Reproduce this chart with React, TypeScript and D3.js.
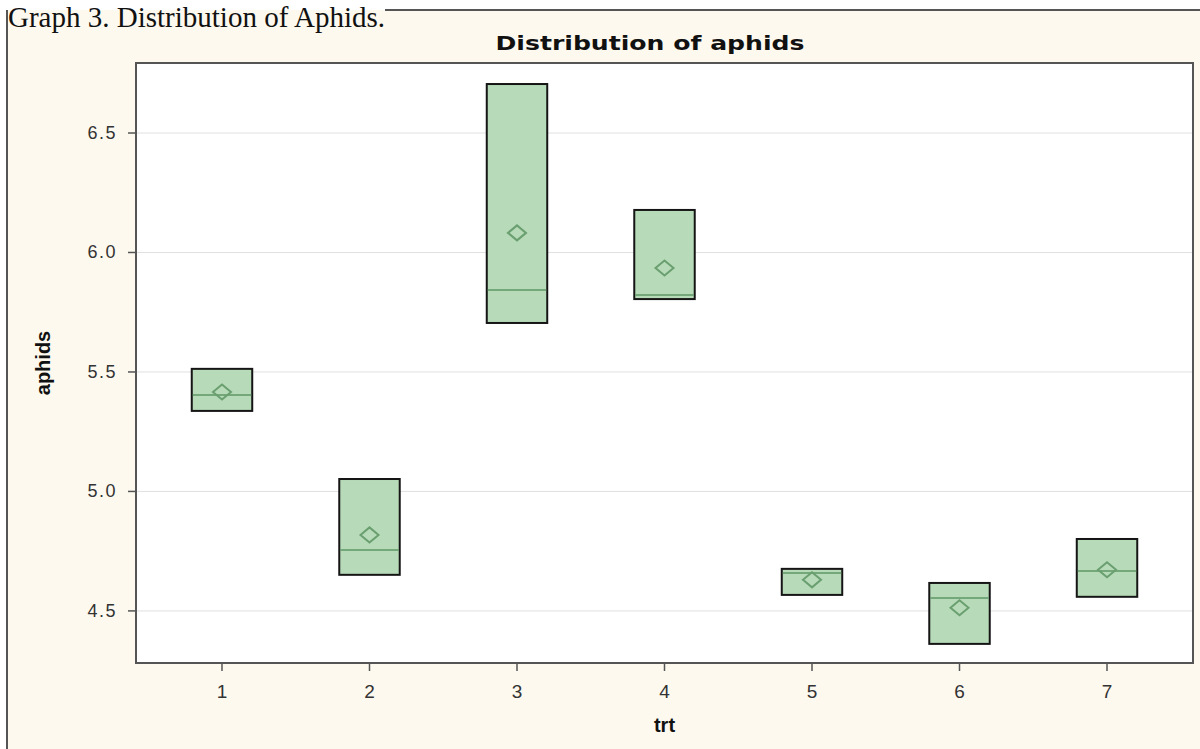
import React from "react";
import * as d3 from "d3";

// treatments and box statistics
const trts = ["1", "2", "3", "4", "5", "6", "7"];
const q1 = [5.337, 4.651, 5.705, 5.805, 4.567, 4.362, 4.559];
const q3 = [5.513, 5.052, 6.705, 6.178, 4.676, 4.617, 4.801];
const medians = [5.404, 4.755, 5.843, 5.822, 4.659, 4.554, 4.667];
const means = [5.416, 4.818, 6.082, 5.935, 4.63, 4.513, 4.672];
const yTicks = [4.5, 5.0, 5.5, 6.0, 6.5];

const W = 1200;
const H = 749;
const plot = { left: 136, right: 1193, top: 63, bottom: 663 };

export default function App() {
  const x = d3
    .scalePoint<string>()
    .domain(trts)
    .range([plot.left, plot.right])
    .padding(0.583);
  const y = d3.scaleLinear().domain([4.282, 6.793]).range([plot.bottom, plot.top]);

  const boxW = x.step() * 0.41;
  const data = trts.map((t, i) => ({
    t,
    q1: q1[i],
    q3: q3[i],
    med: medians[i],
    mean: means[i],
  }));

  const diamond = (cx: number, cy: number) => {
    const dx = 9, dy = 7.5;
    return `M${cx - dx},${cy}L${cx},${cy - dy}L${cx + dx},${cy}L${cx},${cy + dy}Z`;
  };

  return (
    <svg
      width={W}
      height={H}
      style={{ position: "absolute", left: 0, top: 0, display: "block" }}
    >
      <rect x={0} y={0} width={W} height={H} fill="#ffffff" />
      <rect x={7} y={10} width={W - 7} height={H - 10} fill="#fdf9ef" />
      {/* outer frame */}
      <line x1={385} x2={W} y1={10} y2={10} stroke="#555" strokeWidth={2} />
      <line x1={7} x2={7} y1={10} y2={H} stroke="#555" strokeWidth={2} />
      <text
        x={8}
        y={27}
        fontFamily="'Liberation Serif', 'Times New Roman', serif"
        fontSize={30}
        textLength={377}
        lengthAdjust="spacingAndGlyphs"
        fill="#111"
      >
        Graph 3. Distribution of Aphids.
      </text>

      <text
        x={650}
        y={50}
        textAnchor="middle"
        fontFamily="'DejaVu Sans', Verdana, sans-serif"
        fontWeight="bold"
        fontSize={20}
        textLength={309}
        lengthAdjust="spacingAndGlyphs"
        fill="#111"
      >
        Distribution of aphids
      </text>

      {/* plot area */}
      <rect
        x={plot.left}
        y={plot.top}
        width={plot.right - plot.left}
        height={plot.bottom - plot.top}
        fill="#ffffff"
      />
      {yTicks.map((v) => (
        <line
          key={"g" + v}
          x1={plot.left}
          x2={plot.right}
          y1={y(v)}
          y2={y(v)}
          stroke="#e0e0e0"
          strokeWidth={1}
        />
      ))}

      {data.map((d) => {
        const cx = x(d.t) as number;
        return (
          <g key={d.t}>
            <rect
              x={cx - boxW / 2}
              y={y(d.q3)}
              width={boxW}
              height={y(d.q1) - y(d.q3)}
              fill="#b7dab9"
              stroke="#151515"
              strokeWidth={2}
            />
            <line
              x1={cx - boxW / 2 + 1}
              x2={cx + boxW / 2 - 1}
              y1={y(d.med)}
              y2={y(d.med)}
              stroke="#5e9664"
              strokeWidth={1.5}
            />
            <path
              d={diamond(cx, y(d.mean))}
              fill="none"
              stroke="#6a9f70"
              strokeWidth={2}
            />
          </g>
        );
      })}

      {/* axes */}
      <path
        d={`M${plot.left},${plot.top}H${plot.right}V${plot.bottom}H${plot.left}Z`}
        fill="none"
        stroke="#555"
        strokeWidth={2}
      />
      {yTicks.map((v) => (
        <g key={"y" + v}>
          <line
            x1={plot.left - 8}
            x2={plot.left}
            y1={y(v)}
            y2={y(v)}
            stroke="#555"
            strokeWidth={1.5}
          />
          <text
            x={plot.left - 19}
            y={y(v) + 6}
            textAnchor="end"
            fontFamily="'Liberation Sans', Arial, sans-serif"
            fontSize={18}
            letterSpacing={1.5}
            fill="#333"
          >
            {d3.format(".1f")(v)}
          </text>
        </g>
      ))}
      {trts.map((t) => (
        <g key={"x" + t}>
          <line
            x1={x(t)}
            x2={x(t)}
            y1={plot.bottom}
            y2={plot.bottom + 8}
            stroke="#555"
            strokeWidth={1.5}
          />
          <text
            x={x(t)}
            y={plot.bottom + 35}
            textAnchor="middle"
            fontFamily="'Liberation Sans', Arial, sans-serif"
            fontSize={19}
            fill="#333"
          >
            {t}
          </text>
        </g>
      ))}

      <text
        x={(plot.left + plot.right) / 2}
        y={732}
        textAnchor="middle"
        fontFamily="'Liberation Sans', Arial, sans-serif"
        fontWeight="bold"
        fontSize={20}
        fill="#111"
      >
        trt
      </text>
      <text
        transform={`translate(50, ${(plot.top + plot.bottom) / 2}) rotate(-90)`}
        textAnchor="middle"
        fontFamily="'Liberation Sans', Arial, sans-serif"
        fontWeight="bold"
        fontSize={20}
        fill="#111"
      >
        aphids
      </text>
    </svg>
  );
}
